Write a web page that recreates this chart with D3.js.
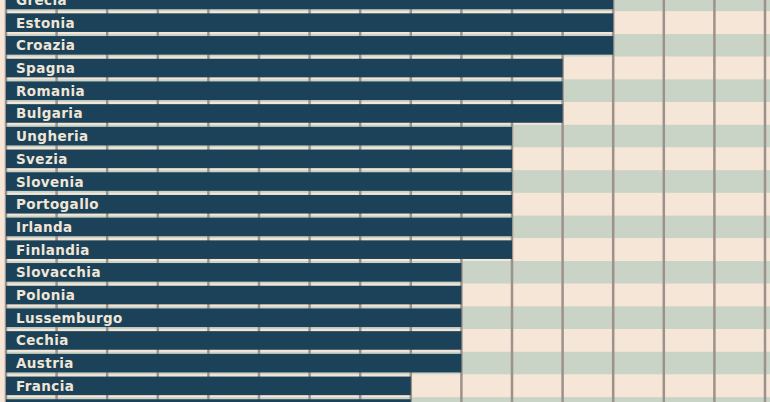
<!DOCTYPE html>
<html>
<head>
<meta charset="utf-8">
<script src="https://cdn.jsdelivr.net/npm/d3@7"></script>
<style>
  html, body { margin: 0; padding: 0; background: #f5e6d7; overflow: hidden; }
  svg { display: block; }
</style>
</head>
<body>
<svg id="chart" width="770" height="402"></svg>
<script>
const countries = ["Grecia","Estonia","Croazia","Spagna","Romania","Bulgaria","Ungheria","Svezia","Slovenia","Portogallo","Irlanda","Finlandia","Slovacchia","Polonia","Lussemburgo","Cechia","Austria","Francia","Germania"];
const values = [12,12,12,11,11,11,10,10,10,10,10,10,9,9,9,9,9,8,8];
const xTicks = d3.range(0, 16);

const W = 770, H = 402;
const svg = d3.select("#chart");

const step = 22.7;
const top0 = -11.4;
const x = d3.scaleLinear().domain([0, 15]).range([6, 765]);
const y = d3.scaleBand().domain(countries)
  .range([top0, top0 + step * countries.length])
  .paddingInner(0.18).paddingOuter(0.09);

// stripes
svg.append("g").selectAll("rect").data(countries).join("rect")
  .attr("x", 6).attr("width", W - 6)
  .attr("y", (d, i) => top0 + i * step)
  .attr("height", step)
  .attr("fill", (d, i) => i % 2 === 0 ? "#c9d3c6" : "#f5e6d7");

// gridlines
svg.append("g").selectAll("line").data(xTicks).join("line")
  .attr("x1", d => x(d)).attr("x2", d => x(d))
  .attr("y1", 0).attr("y2", H)
  .attr("stroke", "#9d918c").attr("stroke-width", 2.5);

// bars
svg.append("g").selectAll("rect").data(countries).join("rect")
  .attr("x", x(0))
  .attr("y", d => y(d))
  .attr("width", (d, i) => x(values[i]) - x(0))
  .attr("height", y.bandwidth())
  .attr("fill", "#1b4259");

// labels (only rows whose text falls inside the visible area)
svg.append("g").selectAll("text")
  .data(countries.filter(d => y(d) + y.bandwidth() / 2 < H))
  .join("text")
  .attr("x", 16)
  .attr("y", d => y(d) + y.bandwidth() / 2 + 5)
  .attr("fill", "#f0e6d8")
  .attr("font-family", "DejaVu Sans")
  .attr("font-weight", "bold")
  .attr("font-size", 13.5)
  .attr("letter-spacing", 0.4)
  .text(d => d);
</script>
</body>
</html>
